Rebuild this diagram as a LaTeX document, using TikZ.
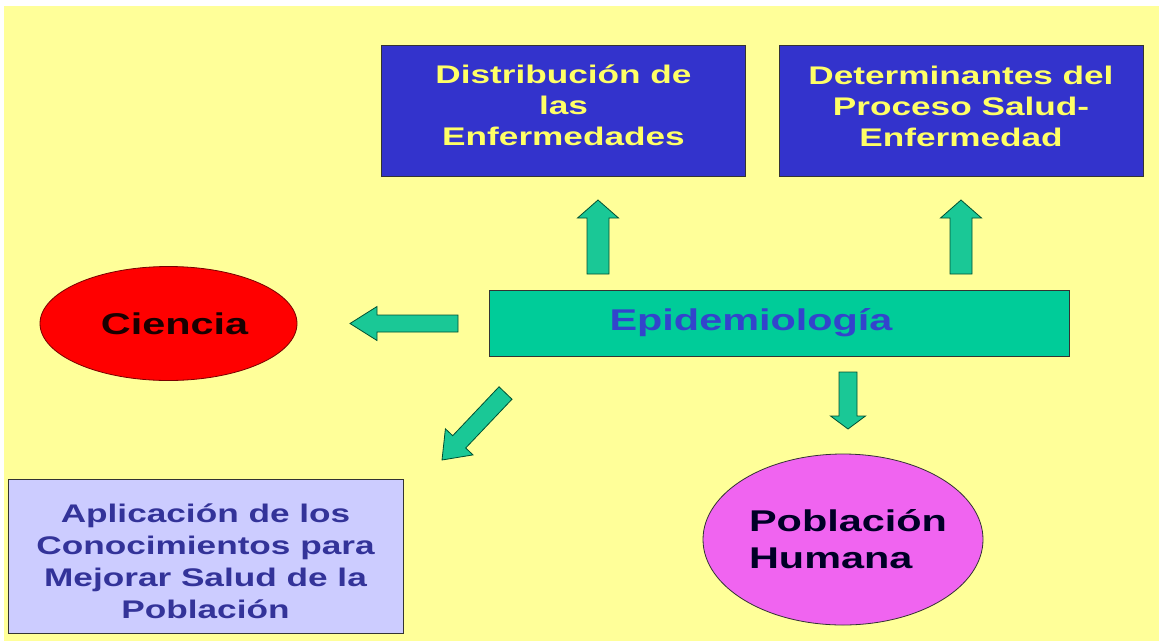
\documentclass[tikz,border=0pt]{standalone}
\usepackage{fontspec}
\setmainfont{Liberation Sans}[FakeStretch=1.38]
\usetikzlibrary{shapes.geometric}
\definecolor{bgyellow}{RGB}{255,255,153}
\definecolor{boxblue}{RGB}{51,51,204}
\definecolor{txtyellow}{RGB}{255,255,102}
\definecolor{epigreen}{RGB}{0,204,153}
\definecolor{arrowgreen}{RGB}{26,200,150}
\definecolor{arrowedge}{RGB}{0,80,50}
\definecolor{epitext}{RGB}{51,68,204}
\definecolor{aplfill}{RGB}{204,204,255}
\definecolor{apltext}{RGB}{51,51,153}
\definecolor{pobfill}{RGB}{240,100,240}
\definecolor{cienred}{RGB}{255,0,0}
\definecolor{cienedge}{RGB}{120,0,0}
\tikzset{
  bluebox/.style={draw=black!80, line width=0.8pt, fill=boxblue, inner sep=0pt,
    minimum width=364pt, minimum height=131pt},
  bluetext/.style={text=txtyellow, font=\bfseries\fontsize{25.5}{31}\selectfont,
    align=center, inner sep=0pt},
  blockarrow/.style={draw=arrowedge, line width=0.8pt, fill=arrowgreen, line join=miter},
  ovalnode/.style={ellipse, draw, line width=0.8pt, inner sep=0pt,
    font=\bfseries\fontsize{30}{37}\selectfont},
}
\begin{document}
\begin{tikzpicture}[x=1pt,y=-1pt]
\useasboundingbox (0,0) rectangle (1159,643);
\fill[white] (0,0) rectangle (1159,643);
\fill[bgyellow] (4,6) rectangle (1159,641);

% boxes
\node[bluebox] (dist) at (563.5,110.5) {};
\node[bluetext] (disttext) at ([yshift=5.5pt]dist.center) {Distribución de\\las\\Enfermedades};
\node[bluebox] (det) at (961,110.5) {};
\node[bluetext] (dettext) at ([yshift=4.5pt]det.center) {Determinantes del\\Proceso Salud-\\Enfermedad};
\node[draw=black!80, line width=0.8pt, fill=epigreen, text=epitext, inner sep=0pt,
  minimum width=580pt, minimum height=66pt,
  font=\bfseries\fontsize{30}{36}\selectfont] (epi) at (779,323) {\hspace*{-56pt}Epidemiología};
\node[ovalnode, draw=cienedge, fill=cienred, text=black!90!red,
  minimum width=257pt, minimum height=114pt] (cien) at (168.5,323.5) {\hspace*{12pt}Ciencia};
\node[ovalnode, draw=black!80, fill=pobfill, minimum width=280pt, minimum height=171pt] (pob) at (843,539.5) {};
\node[text=black!85!blue, align=left, inner sep=0pt,
  font=\bfseries\fontsize{30}{37}\selectfont] (pobtext) at ([xshift=5pt]pob.center) {Población\\Humana};
\node[draw=black!80, line width=0.8pt, fill=aplfill, inner sep=0pt,
  minimum width=395pt, minimum height=154pt] (apl) at (205.5,556) {};
\node[text=apltext, align=center, inner sep=0pt,
  font=\bfseries\fontsize{25.5}{32}\selectfont] (apltext) at ([yshift=-5pt]apl.center)
  {Aplicación de los\\Conocimientos para\\Mejorar Salud de la\\Población};

% block arrows
% up arrow to Distribucion
\draw[blockarrow] (587,274) -- (587,218) -- (577.5,218) -- (598,200) -- (618.5,218) -- (609,218) -- (609,274) -- cycle;
% up arrow to Determinantes
\draw[blockarrow] (950,274) -- (950,218) -- (940.5,218) -- (961,200) -- (981.5,218) -- (972,218) -- (972,274) -- cycle;
% left arrow to Ciencia
\draw[blockarrow] (458,315) -- (377,315) -- (377,306.5) -- (350,323.5) -- (377,340.5) -- (377,332) -- (458,332) -- cycle;
% down arrow to Poblacion
\draw[blockarrow] (839,372) -- (839,416) -- (830.5,416) -- (848,429) -- (865.5,416) -- (857,416) -- (857,372) -- cycle;
% diagonal arrow to Aplicacion
\draw[blockarrow] (499.0,386.8) -- (452.7,435.7) -- (445.4,428.8) -- (442,460) -- (473.0,454.9) -- (465.7,448.0) -- (512.0,399.2) -- cycle;
\end{tikzpicture}
\end{document}
